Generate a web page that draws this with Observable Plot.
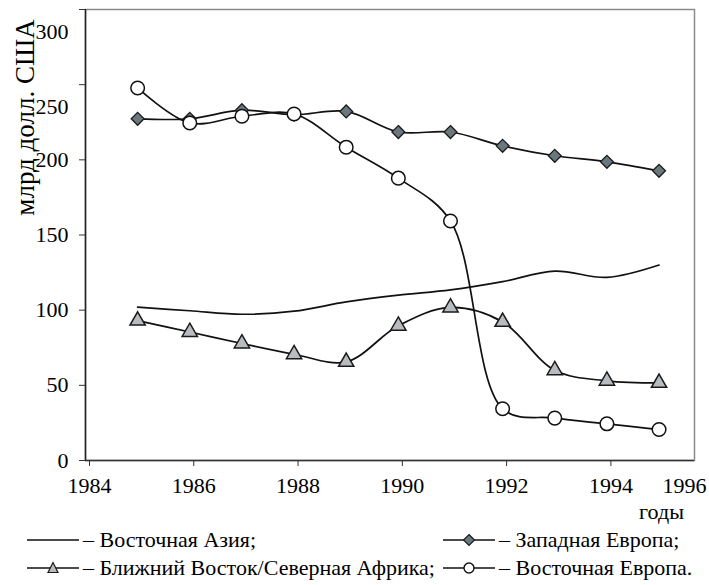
<!DOCTYPE html>
<html><head><meta charset="utf-8">
<script src="https://cdn.jsdelivr.net/npm/d3@7"></script>
<script src="https://cdn.jsdelivr.net/npm/@observablehq/plot@0.6"></script>
<style>
body{margin:0;background:#fff;}
#wrap{position:relative;width:709px;height:585px;font-family:"Liberation Serif","DejaVu Serif",serif;color:#000;}
#legend{position:absolute;left:0;top:526px;width:709px;}
.row{position:relative;height:28px;}
.item{position:absolute;top:0;height:28px;display:flex;align-items:center;font-size:22px;white-space:nowrap;}
.item svg{margin-right:4px;}
</style></head><body>
<div id="wrap"><div id="chart"></div><div id="legend"></div></div>
<script>
const years = [1985, 1986, 1987, 1988, 1989, 1990, 1991, 1992, 1993, 1994, 1995];
const eastAsia   = [102, 99.6, 97.3, 99.3, 105.5, 110, 113.5, 119, 126, 121.8, 130];
const westEurope = [227.3, 227.3, 233, 230, 232.2, 218.5, 218.5, 209.3, 202.7, 198.7, 192.7];
const middleEast = [93, 85.5, 77.8, 70.7, 65.6, 89.6, 101.8, 92.2, 60, 53, 51.6];
const eastEurope = [247.8, 224.5, 229, 230.5, 208.4, 187.8, 159.3, 34.4, 28.2, 24.4, 20.6];
const seriesNames = ["Восточная Азия", "Западная Европа", "Ближний Восток/Северная Африка", "Восточная Европа"];
const xTicks = [1984, 1986, 1988, 1990, 1992, 1994, 1996];
const yTicks = [0, 50, 100, 150, 200, 250, 300];
const yTitle = "млрд долл. США";
const xTitle = "годы";

const rows = (vals) => years.map((y, i) => ({year: y, value: vals[i]}));
const dEA = rows(eastAsia), dWE = rows(westEurope), dME = rows(middleEast), dEE = rows(eastEurope);
const xMax = 1995.68;
const inTicks = xTicks.filter(t => t <= xMax);
const outTicks = xTicks.filter(t => t > xMax).map(String);
const yLow = yTicks.filter(t => t <= 200), yHigh = yTicks.filter(t => t > 200);
const FONT = "'Liberation Serif','DejaVu Serif',serif";

const lineOpts = {x: "year", y: "value", curve: "catmull-rom", stroke: "#111", strokeWidth: 1.7};
const chart = Plot.plot({
  width: 709, height: 526,
  marginTop: 9, marginLeft: 85, marginRight: 15, marginBottom: 66,
  style: {fontFamily: FONT, fontSize: "22px", color: "#000", background: "#fff"},
  x: {domain: [1984, xMax], axis: null},
  y: {domain: [0, 300], axis: null},
  marks: [
    Plot.frame({stroke: "#8a8a8a", strokeWidth: 1.5}),
    Plot.ruleX([1984], {stroke: "#222", strokeWidth: 1.5}),
    Plot.ruleY([0], {stroke: "#333", strokeWidth: 1.5}),
    Plot.axisX(inTicks, {tickSize: 6, tickPadding: 11, fontSize: 22, tickFormat: d => String(d), stroke: "#333", label: null, dx: 4}),
    Plot.axisY(yLow, {tickSize: 6, tickPadding: 11, fontSize: 22, stroke: "#333", label: null}),
    Plot.axisY(yHigh, {tickSize: 6, tickPadding: 11, fontSize: 22, stroke: "#333", label: null, text: null}),
    Plot.axisY(yHigh, {tickSize: 0, tickPadding: 17, fontSize: 22, label: null, dy: 22}),
    Plot.text(outTicks, {frameAnchor: "bottom-right", text: d => d, dx: -10, dy: 17, textAnchor: "middle", lineAnchor: "top", fontSize: 22}),
    Plot.text([xTitle], {frameAnchor: "bottom-right", text: d => d, dx: -33, dy: 51, textAnchor: "middle", lineAnchor: "middle", fontSize: 22}),
    Plot.text([yTitle], {frameAnchor: "top-left", text: d => d, rotate: -90, dx: -60, dy: 108, textAnchor: "middle", lineAnchor: "middle", fontSize: 27}),
    Plot.line(dEA, lineOpts),
    Plot.line(dME, lineOpts),
    Plot.dot(dME, {x: "year", y: "value", symbol: "triangle2", r: 7.3, fill: "#b8bcbe", stroke: "#1a1a1a", strokeWidth: 1.5}),
    Plot.line(dWE, lineOpts),
    Plot.dot(dWE, {x: "year", y: "value", symbol: "diamond2", r: 5.8, fill: "#6a787e", stroke: "#1a1a1a", strokeWidth: 1.3}),
    Plot.line(dEE, lineOpts),
    Plot.dot(dEE, {x: "year", y: "value", symbol: "circle", r: 6.8, fill: "#fff", stroke: "#111", strokeWidth: 1.5})
  ]
});
document.getElementById("chart").appendChild(chart);

// legend
const icon = (kind) => {
  let m = "";
  if (kind === "diamond") m = '<path d="M26,1.5 L31.5,7 L26,12.5 L20.5,7 Z" fill="#6a787e" stroke="#1a1a1a" stroke-width="1.2"/>';
  if (kind === "triangle") m = '<path d="M26,1.5 L31,11.5 L21,11.5 Z" fill="#b8bcbe" stroke="#1a1a1a" stroke-width="1.2"/>';
  if (kind === "circle") m = '<circle cx="26" cy="7" r="5" fill="#fff" stroke="#111" stroke-width="1.4"/>';
  return '<svg width="52" height="14"><line x1="0" x2="52" y1="7" y2="7" stroke="#111" stroke-width="1.7"/>' + m + '</svg>';
};
const legendItems = [
  [{name: seriesNames[0], kind: "none", end: ";", left: 27}, {name: seriesNames[1], kind: "diamond", end: ";", left: 443}],
  [{name: seriesNames[2], kind: "triangle", end: ";", left: 27}, {name: seriesNames[3], kind: "circle", end: ".", left: 443}]
];
const leg = document.getElementById("legend");
legendItems.forEach(r => {
  const row = document.createElement("div"); row.className = "row";
  r.forEach(it => {
    const d = document.createElement("div"); d.className = "item"; d.style.left = it.left + "px";
    d.innerHTML = icon(it.kind) + "<span>– " + it.name + it.end + "</span>";
    row.appendChild(d);
  });
  leg.appendChild(row);
});
</script>
</body></html>
